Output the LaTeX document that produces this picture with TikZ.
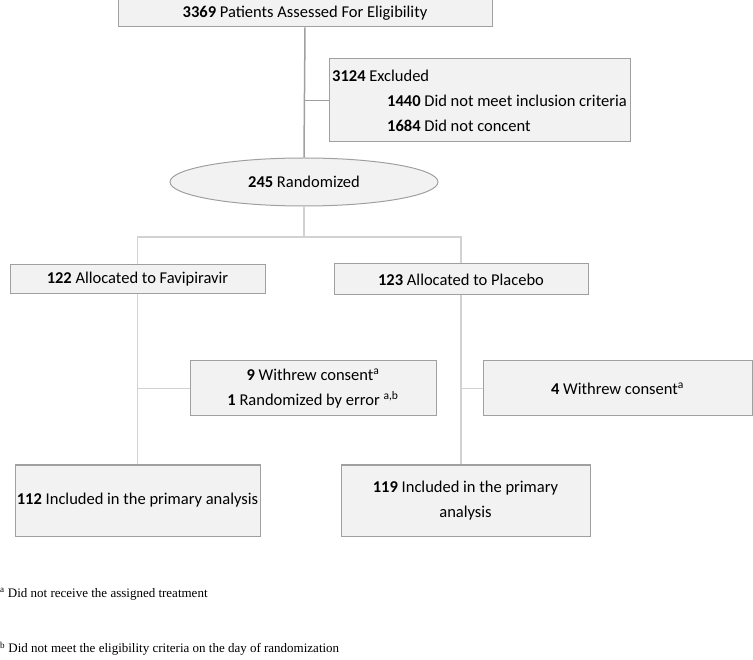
\documentclass[tikz,border=0pt]{standalone}
\usepackage{fontspec}
\setmainfont{Carlito}
\newfontfamily\notefont{Liberation Serif}
\usetikzlibrary{shapes.geometric, positioning, calc}
\definecolor{boxfill}{RGB}{242,242,242}
\definecolor{boxline}{RGB}{160,160,160}
\definecolor{linkdark}{RGB}{160,160,160}
\definecolor{linklight}{RGB}{210,210,210}

\begin{document}
\begin{tikzpicture}[x=1pt, y=-1pt,
  flowbox/.style={draw=boxline, fill=boxfill, line width=1pt, inner sep=0pt, align=center, font=\fontsize{16.5}{25}\selectfont},
  link/.style={draw=linkdark, line width=1.5pt},
  softlink/.style={draw=linklight, line width=1.5pt}]
  \useasboundingbox (0,0) rectangle (753,660);

  % Screening and exclusion
  \node[flowbox, minimum width=374pt, minimum height=27pt] (screen) at (305,13.5) {\textbf{3369} Patients Assessed For Eligibility};
  \node[flowbox, minimum width=301pt, minimum height=83pt, align=left] (excl) at (479.5,100.5) {
    \textbf{3124} Excluded\\
    \hspace*{55pt}\textbf{1440} Did not meet inclusion criteria\\
    \hspace*{55pt}\textbf{1684} Did not concent};
  \node[flowbox, ellipse, minimum width=268pt, minimum height=48pt] (rand) at (304,182) {\textbf{245} Randomized};

  % Allocation
  \node[flowbox, minimum width=255pt, minimum height=29pt] (fav) at (137.5,279.5) {\textbf{122} Allocated to Favipiravir};
  \node[flowbox, minimum width=254pt, minimum height=31pt] (plac) at (461,279.5) {\textbf{123} Allocated to Placebo};

  % Withdrawals
  \node[flowbox, minimum width=246pt, minimum height=55pt] (wdfav) at (313,388.5) {
    \textbf{9} Withrew consent\textsuperscript{a}\\
    \textbf{1} Randomized by error \textsuperscript{a,b}};
  \node[flowbox, minimum width=269pt, minimum height=55pt] (wdplac) at (617.5,388.5) {\textbf{4} Withrew consent\textsuperscript{a}};

  % Analysis
  \node[flowbox, minimum width=245pt, minimum height=71pt] (anfav) at (137.5,500.5) {\textbf{112} Included in the primary analysis};
  \node[flowbox, minimum width=249pt, minimum height=71pt] (anplac) at (465.5,500.5) {\textbf{119} Included in the primary\\analysis};

  % connectors
  \draw[link] (screen.south) -- (rand.north);
  \draw[link] (screen.south |- excl.west) -- (excl.west);
  \coordinate (split) at (rand.south |- 0,237);
  \draw[softlink] (rand.south) -- (split);
  \draw[softlink] (fav.north) |- (split) -| (plac.north);
  \draw[softlink] (fav.south) -- (fav.south |- anfav.north);
  \draw[softlink] (fav.south |- wdfav.west) -- (wdfav.west);
  \draw[softlink] (plac.south) -- (plac.south |- anplac.north);
  \draw[softlink] (plac.south |- wdplac.west) -- (wdplac.west);

  % footnotes
  \node[anchor=west, inner sep=0pt, font=\notefont\fontsize{13}{15}\selectfont] (notea) at (0,594) {\textsuperscript{a} Did not receive the assigned treatment};
  \node[anchor=west, inner sep=0pt, font=\notefont\fontsize{13}{15}\selectfont] (noteb) at (0,649) {\textsuperscript{b} Did not meet the eligibility criteria on the day of randomization};
\end{tikzpicture}
\end{document}
